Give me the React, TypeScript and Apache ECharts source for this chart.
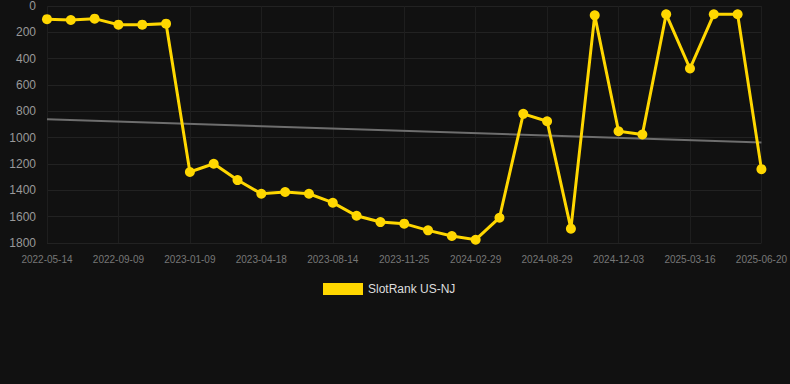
import React, { useEffect, useRef } from "react";
import * as echarts from "echarts";

const dates = [
  "2022-05-14", "2022-06-22", "2022-07-31", "2022-09-09", "2022-10-19", "2022-11-29",
  "2023-01-09", "2023-02-10", "2023-03-15", "2023-04-18", "2023-05-26", "2023-07-05",
  "2023-08-14", "2023-09-20", "2023-10-23", "2023-11-25", "2023-12-30", "2024-01-31",
  "2024-02-29", "2024-04-30", "2024-07-05", "2024-08-29", "2024-10-01", "2024-11-02",
  "2024-12-03", "2025-01-05", "2025-02-10", "2025-03-16", "2025-04-20", "2025-05-18",
  "2025-06-20",
];

const rankValues = [
  100, 106, 96, 142, 142, 134,
  1261, 1198, 1322, 1426, 1413, 1426,
  1494, 1593, 1641, 1653, 1704, 1747,
  1775, 1608, 819, 875, 1691, 71,
  951, 976, 63, 475, 63, 63,
  1239,
];

const trendStart = 860;
const trendEnd = 1036;

const seriesName = "SlotRank US-NJ";

export default function App() {
  const ref = useRef<HTMLDivElement>(null);
  useEffect(() => {
    document.body.style.margin = "0";
    const chart = echarts.init(ref.current!, null, { renderer: "svg" });
    chart.setOption({
      animation: false,
      backgroundColor: "#111111",
      grid: { left: 47, right: 28, top: 6, bottom: 141, containLabel: false },
      legend: {
        data: [{ name: seriesName, icon: "rect" }],
        top: 278,
        left: 318,
        itemWidth: 40,
        itemHeight: 12,
        itemGap: 10,
        textStyle: { color: "#dddddd", fontSize: 12, fontFamily: "Arial, Liberation Sans, sans-serif" },
      },
      xAxis: {
        type: "category",
        data: dates,
        boundaryGap: false,
        axisLine: { show: false },
        axisTick: { show: false },
        axisLabel: {
          interval: 2,
          color: "#777777",
          fontSize: 10,
          margin: 11,
          fontFamily: "Arial, Liberation Sans, sans-serif",
        },
        splitLine: { show: true, interval: 2, lineStyle: { color: "#1e1e1e", width: 1 } },
      },
      yAxis: {
        type: "value",
        inverse: true,
        min: 0,
        max: 1800,
        interval: 200,
        axisLine: { show: false },
        axisTick: { show: false },
        axisLabel: {
          color: "#999999",
          fontSize: 12,
          margin: 11,
          fontFamily: "Arial, Liberation Sans, sans-serif",
          formatter: (v: number) => String(v),
        },
        splitLine: { show: true, lineStyle: { color: "#222222", width: 1 } },
      },
      series: [
        {
          name: seriesName,
          type: "line",
          data: rankValues,
          symbol: "circle",
          symbolSize: 10,
          lineStyle: { color: "#ffd700", width: 3, join: "miter" },
          itemStyle: { color: "#ffd700" },
          z: 3,
        },
        {
          name: "trend",
          type: "line",
          data: [
            [dates[0], trendStart],
            [dates[dates.length - 1], trendEnd],
          ],
          symbol: "none",
          lineStyle: { color: "#6e6e6e", width: 2 },
          z: 2,
          silent: true,
        },
      ],
    });
    return () => chart.dispose();
  }, []);
  return <div ref={ref} style={{ width: 790, height: 384 }} />;
}
